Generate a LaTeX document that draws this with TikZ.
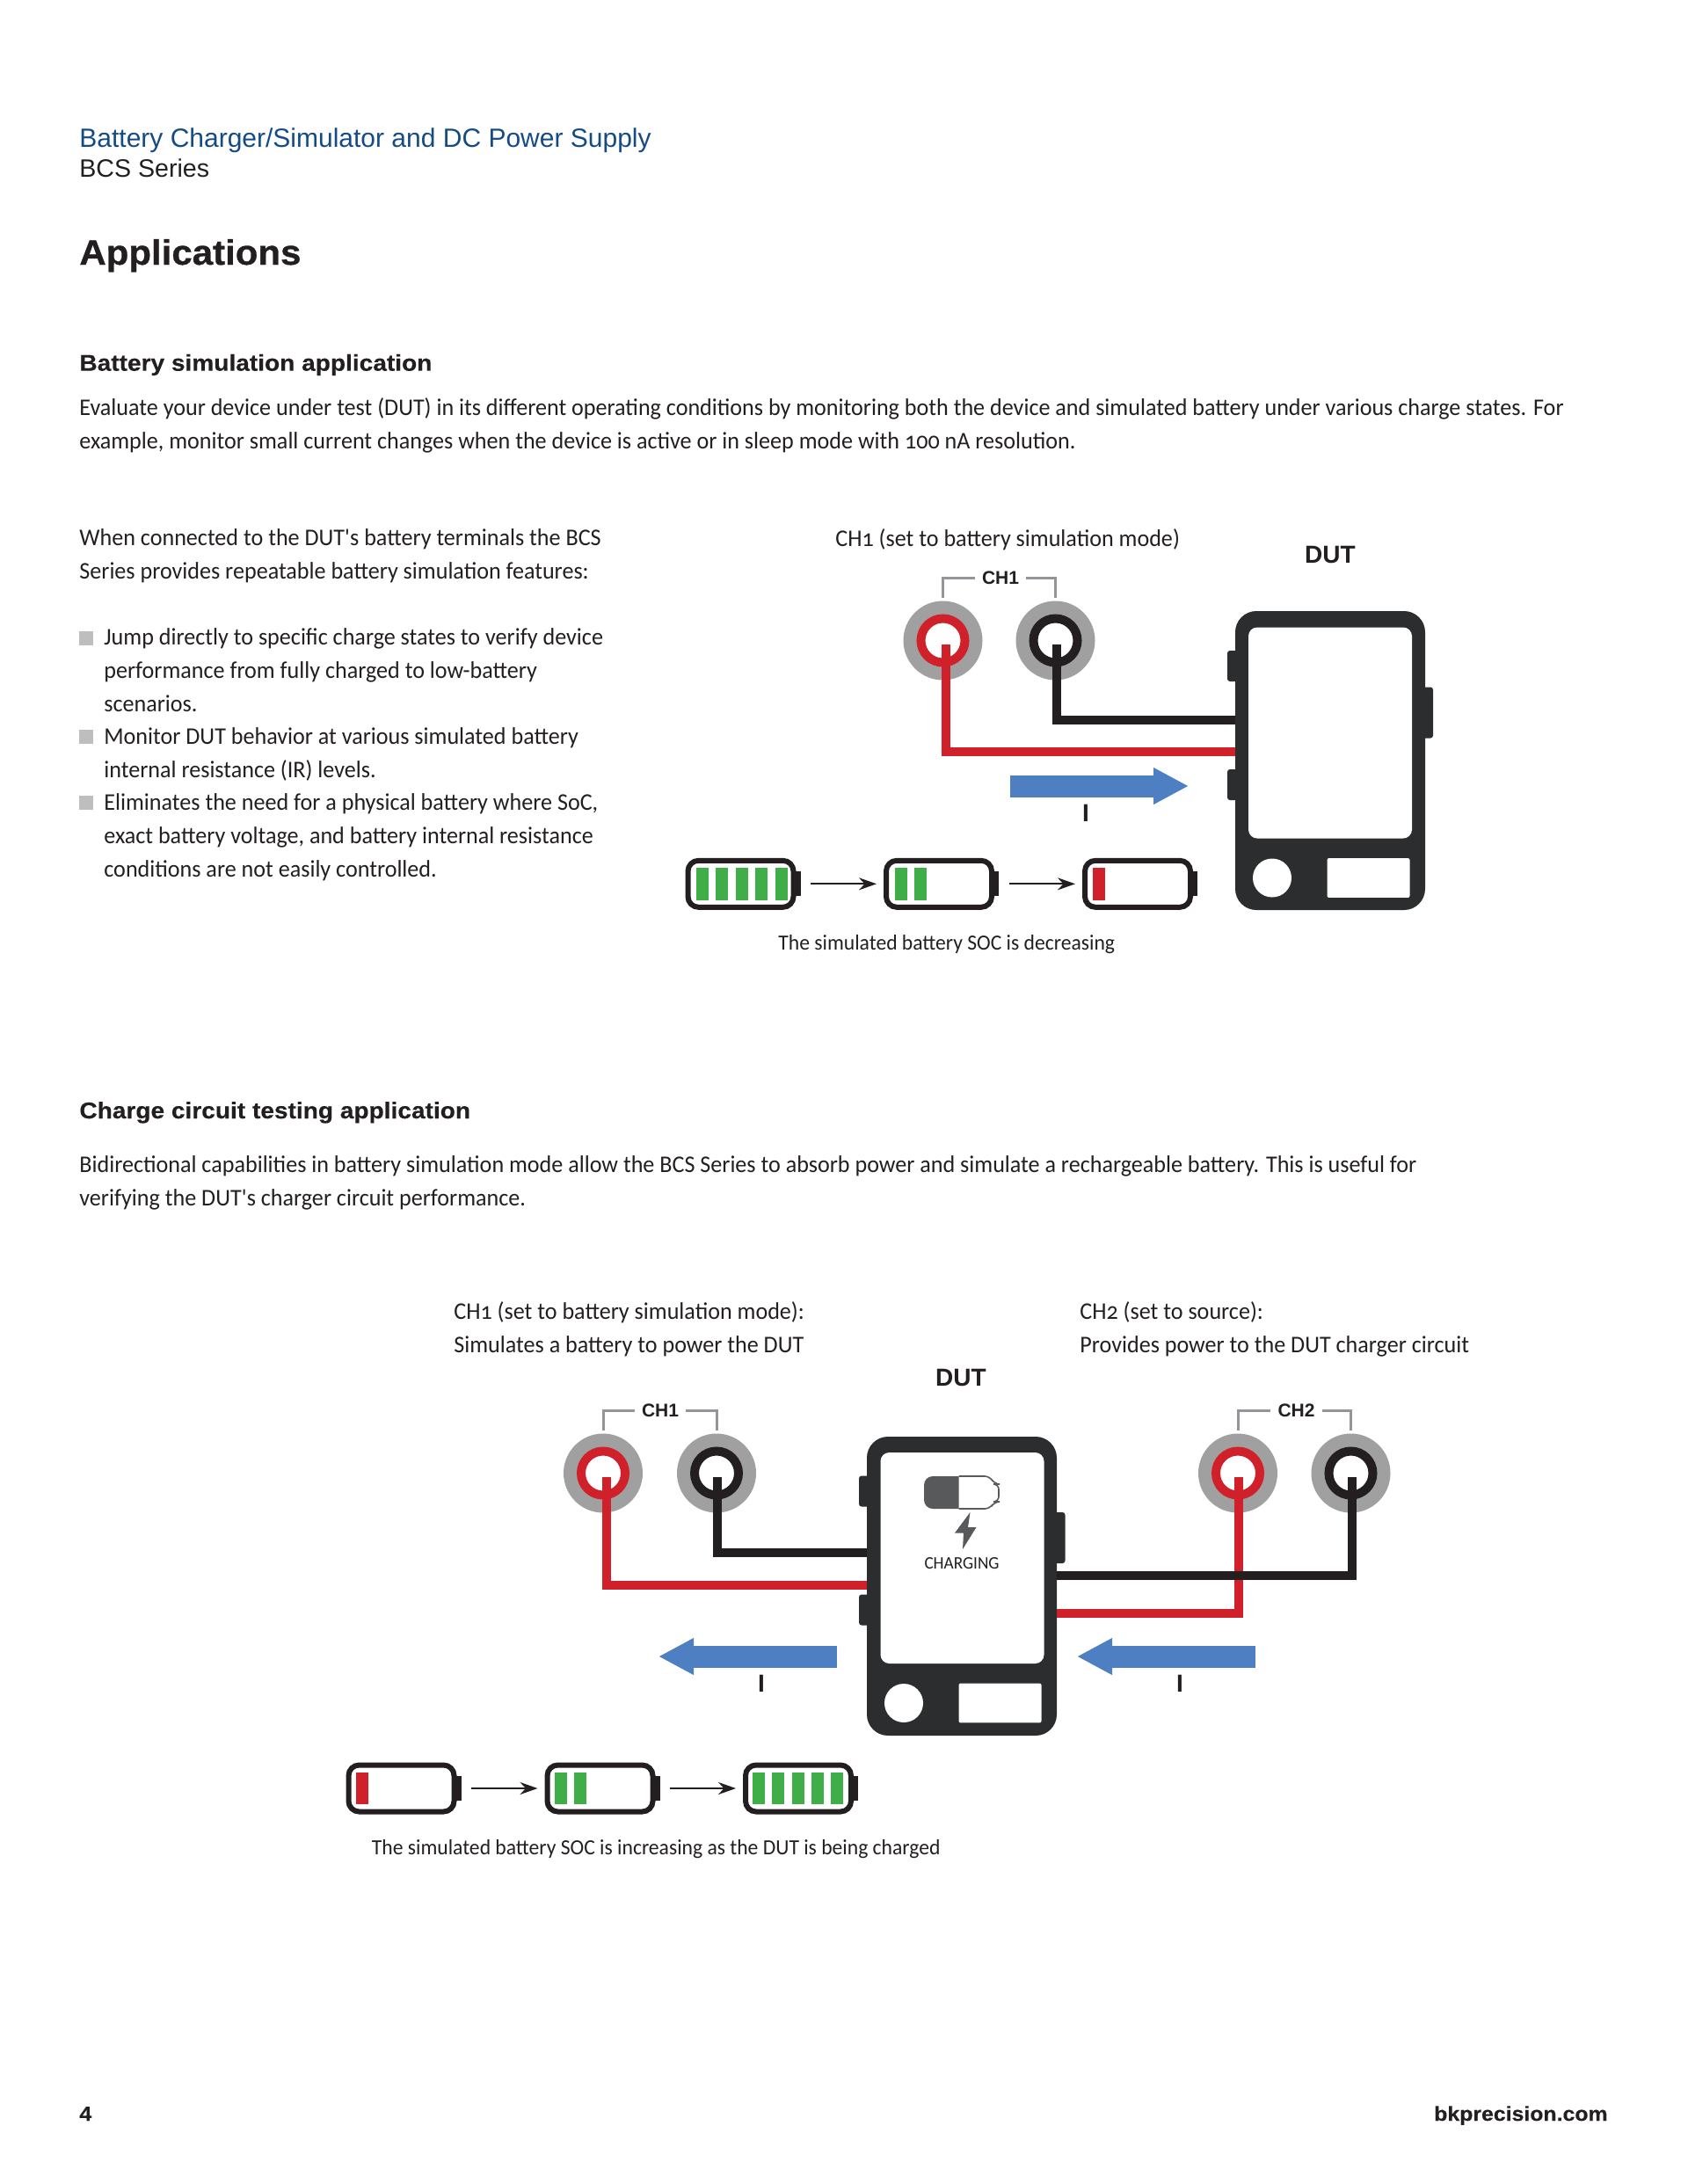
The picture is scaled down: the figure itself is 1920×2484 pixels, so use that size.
\documentclass[tikz,border=0pt]{standalone}
\usepackage{fontspec}
\setmainfont{Carlito}[Numbers=OldStyle,FakeStretch=0.96]
\newfontfamily\headfont{Liberation Sans}
\newfontfamily\widefont{Liberation Sans}[BoldFeatures={FakeStretch=1.08,FakeBold=0.25}]
\newfontfamily\blackfont{Liberation Sans}[BoldFeatures={FakeStretch=1.05,FakeBold=0.8}]
\usetikzlibrary{arrows.meta,positioning}
\definecolor{headblue}{RGB}{20,75,135}
\definecolor{darktext}{RGB}{35,31,32}
\definecolor{phonedark}{RGB}{43,45,46}
\definecolor{wirered}{RGB}{208,33,42}
\definecolor{wireblack}{RGB}{35,31,32}
\definecolor{ringgray}{RGB}{160,160,161}
\definecolor{bracketgray}{RGB}{147,149,152}
\definecolor{cellgreen}{RGB}{63,174,73}
\definecolor{flowblue}{RGB}{79,127,195}
\definecolor{bulletgray}{RGB}{190,190,190}
\definecolor{icongray}{RGB}{88,89,91}

\begin{document}
\begin{tikzpicture}[x=0.5pt,y=-0.5pt,
  body/.style={anchor=base west,inner sep=0pt,align=left,text=darktext,
               font=\fontsize{13.6}{19}\selectfont},
  note/.style={anchor=base west,inner sep=0pt,text=darktext,
               font=\fontsize{12.3}{19}\selectfont},
  section/.style={anchor=base west,inner sep=0pt,text=darktext,
               font=\widefont\bfseries\fontsize{13}{16}\selectfont},
  duttitle/.style={inner sep=0pt,text=darktext,font=\headfont\bfseries\fontsize{14}{16}\selectfont},
  chlabel/.style={inner xsep=4pt,inner ysep=0pt,text=darktext,font=\headfont\bfseries\fontsize{10.5}{12}\selectfont},
  curlabel/.style={inner sep=0pt,text=darktext,font=\headfont\bfseries\fontsize{14}{16}\selectfont},
  bullet/.style={fill=bulletgray,minimum size=8pt,inner sep=0pt},
  terminal/.style={circle,fill=ringgray,minimum size=45pt,inner sep=0pt},
  ringred/.style={circle,draw=wirered,fill=white,line width=5pt,minimum size=25pt,inner sep=0pt},
  ringblack/.style={circle,draw=wireblack,fill=white,line width=5pt,minimum size=25pt,inner sep=0pt},
  phone/.style={fill=phonedark,rounded corners=12pt,minimum width=108pt,minimum height=170pt,inner sep=0pt},
  screen/.style={fill=white,rounded corners=5pt,minimum width=93pt,minimum height=120pt,inner sep=0pt},
  homekey/.style={circle,fill=white,minimum size=22pt,inner sep=0pt},
  softkey/.style={fill=white,rounded corners=1pt,minimum width=47pt,minimum height=22.4pt,inner sep=0pt},
  sidekey/.style={fill=phonedark,rounded corners=1.5pt,minimum width=6pt,inner sep=0pt},
  batt/.style={draw=wireblack,fill=white,line width=3pt,rounded corners=6pt,
               minimum width=60pt,minimum height=26.5pt,inner sep=0pt},
  battcap/.style={fill=wireblack,minimum width=3pt,minimum height=14pt,inner sep=0pt},
  cellgrn/.style={fill=cellgreen,minimum width=7pt,minimum height=18.4pt,inner sep=0pt},
  cellred/.style={fill=wirered,minimum width=7pt,minimum height=18.4pt,inner sep=0pt},
  redwire/.style={draw=wirered,line width=5pt},
  blackwire/.style={draw=wireblack,line width=5pt},
  bracket/.style={draw=bracketgray,line width=1.5pt,shorten <=1.5pt},
  flow/.style={draw=flowblue,line width=12.5pt,-{Triangle[length=20pt,width=19.5pt]}},
  socarrow/.style={draw=wireblack,line width=1pt,-{Stealth[length=10pt,width=7pt]},
                   shorten <=5.5pt,shorten >=4pt}
]
\useasboundingbox (0,0) rectangle (1920,2484);

\node[anchor=base west,inner sep=0pt,text=headblue,font=\headfont\fontsize{15}{16}\selectfont] (series) at (90,167.5) {Battery Charger/Simulator and DC Power Supply};
\node[anchor=base west,inner sep=0pt,text=darktext,font=\headfont\fontsize{14.3}{16}\selectfont] (bcs) at (90,201) {BCS Series};
\node[anchor=base west,inner sep=0pt,text=darktext,font=\blackfont\bfseries\fontsize{20}{22}\selectfont] (apps) at (90,301) {Applications};
\node[section] (simhead) at (90,421.7) {Battery simulation application};
\node[body] (simtext) at (90,510.5) {Evaluate your device under test (DUT) in its different operating conditions by monitoring both the device and simulated battery under various charge states. For\\example, monitor small current changes when the device is active or in sleep mode with 100 nA resolution.};
\node[body] (whentext) at (90,658.5) {When connected to the DUT\textquotesingle s battery terminals the BCS\\Series provides repeatable battery simulation features:};
\node[bullet] (b1) at (98,725.5) {};
\node[bullet] (b2) at (98,838) {};
\node[bullet] (b3) at (98,912.5) {};
\node[body] (t1) at (118,809.5) {Jump directly to specific charge states to verify device\\performance from fully charged to low-battery\\scenarios.};
\node[body] (t2) at (118,884.5) {Monitor DUT behavior at various simulated battery\\internal resistance (IR) levels.};
\node[body] (t3) at (118,997.5) {Eliminates the need for a physical battery where SoC,\\exact battery voltage, and battery internal resistance\\conditions are not easily controlled.};
\node[body] (ch1mode) at (950,621) {CH1 (set to battery simulation mode)};

\node[duttitle] (dut1lab) at (1513,631) {DUT};
\node[sidekey,minimum height=17.5pt] (k11) at (1402,757.5) {};
\node[sidekey,minimum height=17.5pt] (k12) at (1402,892.5) {};
\node[sidekey,minimum height=29pt] (k13) at (1624,810.5) {};
\node[phone] (dut1) at (1513,865) {};
\node[screen] (scr1) at (1513,833.5) {};
\node[homekey] (home1) at (1447,998.5) {};
\node[softkey] (soft1) at (1556.5,998.5) {};

\node[terminal] (ch1r) at (1072.5,728.5) {};
\node[terminal] (ch1k) at (1200.5,728.5) {};
\node[ringred] (ring1r) at (1072.5,728.5) {};
\node[ringblack] (ring1k) at (1200.5,728.5) {};
\node[chlabel] (ch1lab) at (1138,657) {CH1};
\draw[bracket] (ch1r.north) |- (ch1lab.west);
\draw[bracket] (ch1k.north) |- (ch1lab.east);
\coordinate (w1r) at (1076,732.5);
\coordinate (w1k) at (1202,732.5);
\coordinate (d1r) at (1405,855);
\coordinate (d1k) at (1405,819);
\draw[blackwire] (w1k) |- (d1k);
\draw[redwire] (w1r) |- (d1r);
\coordinate (f1a) at (1149,894);
\coordinate (f1b) at (1352,894);
\draw[flow] (f1a) -- (f1b);
\node[curlabel] (cur1) at (1235,925) {I};

\foreach \n/\xc in {1/842.5,2/1068,3/1294}{
  \node[batt] (batt\n) at (\xc,1005.3) {};
  \node[battcap,right=-0.5pt of batt\n] (cap\n) {};
}
\foreach \xc in {799,821.4,843.8,866.2,888.6,1024.5,1046.9}
  \node[cellgrn] at (\xc,1005.7) {};
\node[cellred] (low1) at (1250,1005.7) {};
\draw[socarrow] (cap1) -- (batt2);
\draw[socarrow] (cap2) -- (batt3);
\node[note] (soc1) at (885,1080) {The simulated battery SOC is decreasing};

\node[section] (chghead) at (90,1272) {Charge circuit testing application};
\node[body] (chgtext) at (90,1371.5) {Bidirectional capabilities in battery simulation mode allow the BCS Series to absorb power and simulate a rechargeable battery. This is useful for\\verifying the DUT\textquotesingle s charger circuit performance.};
\node[body] (ch1simu) at (516,1538.5) {CH1 (set to battery simulation mode):\\Simulates a battery to power the DUT};
\node[body] (ch2src) at (1228,1538.5) {CH2 (set to source):\\Provides power to the DUT charger circuit};

\node[duttitle] (dut2lab) at (1093,1567) {DUT};
\node[sidekey,minimum height=17.5pt] (k21) at (983,1696) {};
\node[sidekey,minimum height=17.5pt] (k22) at (983,1831) {};
\node[sidekey,minimum height=29pt] (k23) at (1205.5,1749) {};
\node[phone] (dut2) at (1094,1804) {};
\node[screen] (scr2) at (1094.5,1772) {};
\node[homekey] (home2) at (1028,1937) {};
\node[softkey] (soft2) at (1137.5,1937) {};

\fill[icongray] (1090.5,1716) [rounded corners=5pt] -- (1051,1716) -- (1051,1679) [sharp corners] -- (1090.5,1679) -- cycle;
\draw[icongray,line width=0.8pt,rounded corners=3pt] (1090.5,1679) -- (1126,1679) -- (1131,1688) -- (1136,1688) -- (1136,1708) -- (1131,1708) -- (1126,1716) -- (1090.5,1716);
\fill[icongray] (1103.5,1720) -- (1086,1743.5) -- (1096,1743.5) -- (1095,1762) -- (1110.5,1737) -- (1101,1737) -- cycle;
\node[anchor=base,inner sep=0pt,text=darktext,font=\fontsize{10}{11}\selectfont] (charging) at (1094,1784) {CHARGING};

\node[terminal] (ch2r) at (686,1675.5) {};
\node[terminal] (ch2k) at (815,1675.5) {};
\node[ringred] (ring2r) at (686,1675.5) {};
\node[ringblack] (ring2k) at (815,1675.5) {};
\node[chlabel] (ch2lab) at (751,1604) {CH1};
\draw[bracket] (ch2r.north) |- (ch2lab.west);
\draw[bracket] (ch2k.north) |- (ch2lab.east);
\coordinate (w2r) at (689.5,1680);
\coordinate (w2k) at (815.5,1680);
\coordinate (d2r) at (986,1802.5);
\coordinate (d2k) at (986,1766);
\draw[blackwire] (w2k) |- (d2k);
\draw[redwire] (w2r) |- (d2r);

\node[terminal] (ch3r) at (1408,1675.5) {};
\node[terminal] (ch3k) at (1536.5,1675.5) {};
\node[ringred] (ring3r) at (1408,1675.5) {};
\node[ringblack] (ring3k) at (1536.5,1675.5) {};
\node[chlabel] (ch3lab) at (1474.5,1604) {CH2};
\draw[bracket] (ch3r.north) |- (ch3lab.west);
\draw[bracket] (ch3k.north) |- (ch3lab.east);
\coordinate (w3r) at (1408.5,1680);
\coordinate (w3k) at (1538,1680);
\coordinate (d3r) at (1202,1835);
\coordinate (d3k) at (1202,1792);
\draw[redwire] (w3r) |- (d3r);
\draw[blackwire] (w3k) |- (d3k);

\coordinate (f2a) at (952,1884);
\coordinate (f2b) at (749,1884);
\draw[flow] (f2a) -- (f2b);
\node[curlabel] (cur2) at (866,1914.5) {I};
\coordinate (f3a) at (1428,1884);
\coordinate (f3b) at (1225,1884);
\draw[flow] (f3a) -- (f3b);
\node[curlabel] (cur3) at (1342,1915) {I};

\foreach \n/\xc in {4/456.5,5/682.5,6/908}{
  \node[batt] (batt\n) at (\xc,2034) {};
  \node[battcap,right=-0.5pt of batt\n] (cap\n) {};
}
\foreach \xc in {637.8,660,862.8,885.2,907.6,930,952.4}
  \node[cellgrn] at (\xc,2034) {};
\node[cellred] (low2) at (412.3,2034) {};
\draw[socarrow] (cap4) -- (batt5);
\draw[socarrow] (cap5) -- (batt6);
\node[note] (soc2) at (422.5,2109.5) {The simulated battery SOC is increasing as the DUT is being charged};

\node[anchor=base west,inner sep=0pt,text=darktext,font=\widefont\bfseries\fontsize{11.5}{14}\selectfont] (page) at (90,2412) {4};
\node[anchor=base east,inner sep=0pt,text=darktext,font=\widefont\bfseries\fontsize{11.5}{14}\selectfont] (site) at (1829,2412) {bkprecision.com};
\end{tikzpicture}
\end{document}
